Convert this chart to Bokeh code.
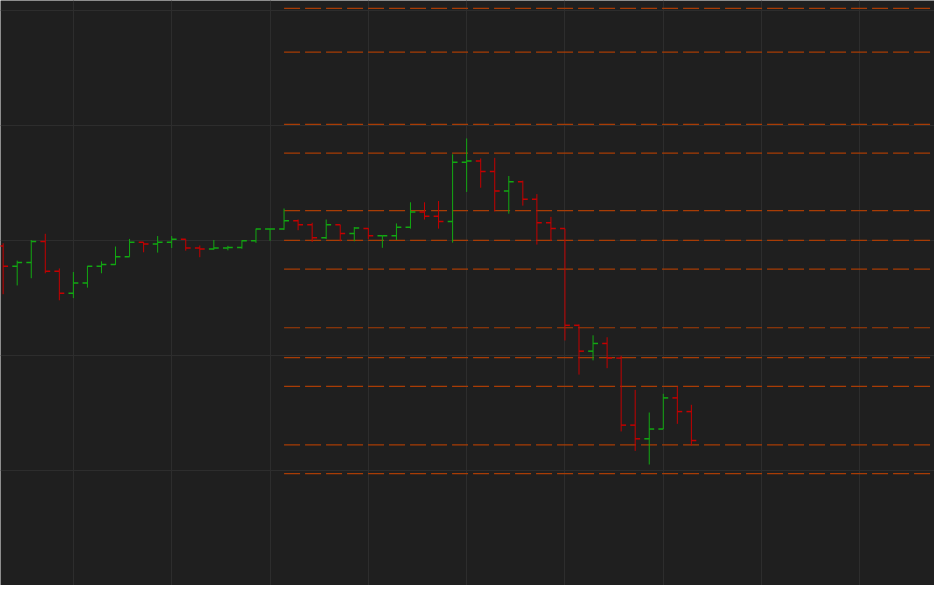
from bokeh.plotting import figure
from bokeh.models import ColumnDataSource, FixedTicker, Range1d
from bokeh.embed import file_html
from bokeh.resources import INLINE

# ---- data ----
bar_index = list(range(50))
open_ = [11.951, 11.775, 11.807, 11.990, 11.731, 11.541, 11.629, 11.775, 11.790, 11.858,
         11.985, 11.968, 11.985, 12.010, 11.934, 11.925, 11.934, 11.939, 11.998, 12.100,
         12.100, 12.171, 12.137, 12.024, 12.137, 12.061, 12.103, 12.041, 12.041, 12.114,
         12.247, 12.210, 12.165, 12.680, 12.691, 12.600, 12.431, 12.510, 12.358, 12.154,
         12.103, 11.261, 11.036, 11.103, 10.976, 10.392, 10.273, 10.358, 10.629, 10.510]
high = [11.976, 11.824, 12.004, 12.058, 11.756, 11.725, 11.778, 11.818, 11.947, 12.013,
        11.985, 12.038, 12.038, 12.010, 11.956, 12.004, 11.953, 12.002, 12.103, 12.100,
        12.278, 12.182, 12.154, 12.182, 12.137, 12.117, 12.108, 12.041, 12.148, 12.332,
        12.332, 12.343, 12.750, 12.888, 12.714, 12.719, 12.561, 12.521, 12.403, 12.205,
        12.103, 11.269, 11.174, 11.157, 10.996, 10.699, 10.502, 10.665, 10.727, 10.569]
low = [11.532, 11.608, 11.671, 11.714, 11.479, 11.498, 11.589, 11.714, 11.786, 11.858,
       11.897, 11.894, 11.934, 11.911, 11.854, 11.919, 11.914, 11.928, 11.979, 11.998,
       12.092, 12.089, 11.987, 12.013, 11.993, 11.993, 12.013, 11.936, 12.004, 12.103,
       12.182, 12.103, 11.981, 12.422, 12.459, 12.253, 12.233, 12.303, 11.964, 11.998,
       11.129, 10.832, 10.956, 10.888, 10.337, 10.168, 10.049, 10.358, 10.403, 10.214]
close = [11.775, 11.807, 11.990, 11.731, 11.541, 11.629, 11.775, 11.790, 11.858, 11.985,
         11.968, 11.985, 12.010, 11.934, 11.925, 11.934, 11.939, 11.998, 12.100, 12.100,
         12.171, 12.137, 12.024, 12.137, 12.061, 12.108, 12.041, 12.041, 12.114, 12.247,
         12.210, 12.165, 12.680, 12.691, 12.600, 12.431, 12.510, 12.358, 12.154, 12.103,
         11.261, 11.036, 11.103, 10.976, 10.392, 10.273, 10.358, 10.629, 10.510, 10.258]

levels = [14.02, 13.64, 13.01, 12.76, 12.26, 12.00, 11.75, 11.24, 10.98, 10.73, 10.22, 9.97]
level_start = 20
week_ticks = [5, 12, 19, 26, 33, 40, 47, 54, 61]
price_ticks = [9, 10, 11, 12, 13, 14]

# ---- style ----
BG = "#1f1f1f"
GRID = "#2d2d2d"
UP = "#12a812"
DOWN = "#c40000"
LEVEL = "#a83c05"
TICK = 0.35

colors = [UP if c >= o else DOWN for o, c in zip(open_, close)]
src = ColumnDataSource(dict(
    x=bar_index, o=open_, h=high, l=low, c=close, color=colors,
    xl=[i - TICK for i in bar_index], xr=[i + TICK for i in bar_index],
))

p = figure(width=934, height=585,
           x_range=Range1d(-0.189, 66.31), y_range=Range1d(8.99576, 14.089),
           x_axis_location=None, y_axis_location=None,
           toolbar_location=None, output_backend="svg",
           background_fill_color=BG, border_fill_color=BG,
           outline_line_color=None, min_border=0)

p.xgrid.ticker = FixedTicker(ticks=week_ticks)
p.ygrid.ticker = FixedTicker(ticks=price_ticks)
p.xgrid.grid_line_color = GRID
p.ygrid.grid_line_color = GRID
p.xgrid.grid_line_width = 1
p.ygrid.grid_line_width = 1

n = len(levels)
p.segment(x0=[level_start] * n, y0=levels, x1=[70] * n, y1=levels,
          line_color=LEVEL, line_width=1.2, line_dash="16 5")

p.segment(x0="x", y0="l", x1="x", y1="h", source=src, line_color="color", line_width=1)
p.segment(x0="xl", y0="o", x1="x", y1="o", source=src, line_color="color", line_width=1.5)
p.segment(x0="x", y0="c", x1="xr", y1="c", source=src, line_color="color", line_width=1.5)

open("out.html", "w").write(file_html(p, INLINE))
